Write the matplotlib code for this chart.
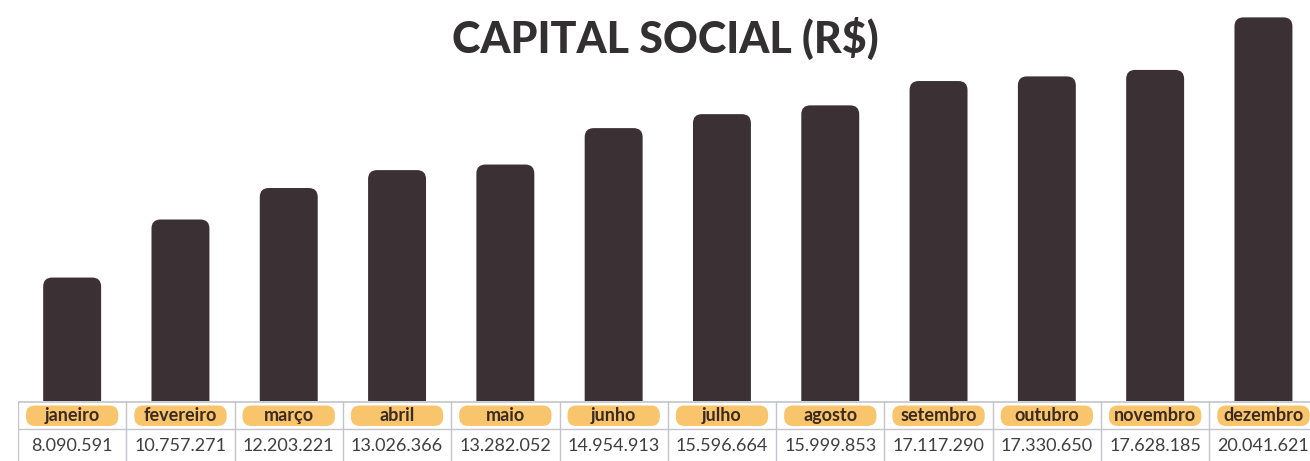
import matplotlib
matplotlib.use("Agg")
import matplotlib.pyplot as plt
from matplotlib.patches import FancyBboxPatch

meses = ["janeiro", "fevereiro", "março", "abril", "maio", "junho", "julho",
         "agosto", "setembro", "outubro", "novembro", "dezembro"]
valores = [8090591, 10757271, 12203221, 13026366, 13282052, 14954913, 15596664,
           15999853, 17117290, 17330650, 17628185, 20041621]
rotulos = ["8.090.591", "10.757.271", "12.203.221", "13.026.366", "13.282.052",
           "14.954.913", "15.596.664", "15.999.853", "17.117.290", "17.330.650",
           "17.628.185", "20.041.621"]
titulo = "CAPITAL SOCIAL (R$)"

W, H = 1310, 461
fig = plt.figure(figsize=(W / 100, H / 100), dpi=100)
fig.patch.set_facecolor("white")

col_w = 108.3
x0 = 18
n = len(meses)
ax_left = x0 / W
ax_width = n * col_w / W
base_px = 401
ax = fig.add_axes([ax_left, 1 - base_px / H, ax_width, base_px / H])
ymin, ymax = 2.42e6, 20.84e6
ax.set_xlim(-0.5, n - 0.5)
ax.set_ylim(ymin, ymax)
ax.axis("off")

xu_per_px = n / (n * col_w)
yu_per_px = (ymax - ymin) / base_px
bar_color = "#3b3134"
bar_w = 0.535
r_px = 9
for i, v in enumerate(valores):
    bottom = ymin - 20 * yu_per_px
    p = FancyBboxPatch((i - bar_w / 2, bottom), bar_w, v - bottom,
                       boxstyle=f"round,pad=0,rounding_size={r_px * xu_per_px}",
                       mutation_aspect=yu_per_px / xu_per_px,
                       facecolor=bar_color, edgecolor="none")
    ax.add_patch(p)

fig.text(0.508, 1 - 38 / H, titulo, ha="center", va="center",
         fontsize=31, fontweight="black", family=["Lato", "DejaVu Sans"],
         color="#333031")

# table
tax = fig.add_axes([ax_left, 0, ax_width, (H - base_px) / H])
tax.set_xlim(-0.5, n - 0.5)
tax.set_ylim(H - base_px, 0)
tax.axis("off")
line_c = "#c4c4cc"
tax.axhline(0.5, color=line_c, lw=1.2)
tax.axhline(28, color=line_c, lw=1.0)
for i in range(n + 1):
    tax.axvline(i - 0.5, color=line_c, lw=1.0)
pill_c = "#f9c56c"
for i, (m, r) in enumerate(zip(meses, rotulos)):
    pw = (col_w - 16) * xu_per_px
    p = FancyBboxPatch((i - pw / 2, 4.5), pw, 20.5,
                       boxstyle=f"round,pad=0,rounding_size={9 * xu_per_px}",
                       mutation_aspect=1 / xu_per_px,
                       facecolor=pill_c, edgecolor="none")
    tax.add_patch(p)
    tax.text(i, 14.5, m, ha="center", va="center", fontsize=13,
             fontweight="bold", family=["Lato", "DejaVu Sans"], color="#3a2a22")
    tax.text(i, 45, r, ha="center", va="center", fontsize=13,
             fontweight="normal", family=["Lato", "DejaVu Sans"], color="#3f3f42")

fig.savefig("out.png", dpi=100, facecolor="white")
